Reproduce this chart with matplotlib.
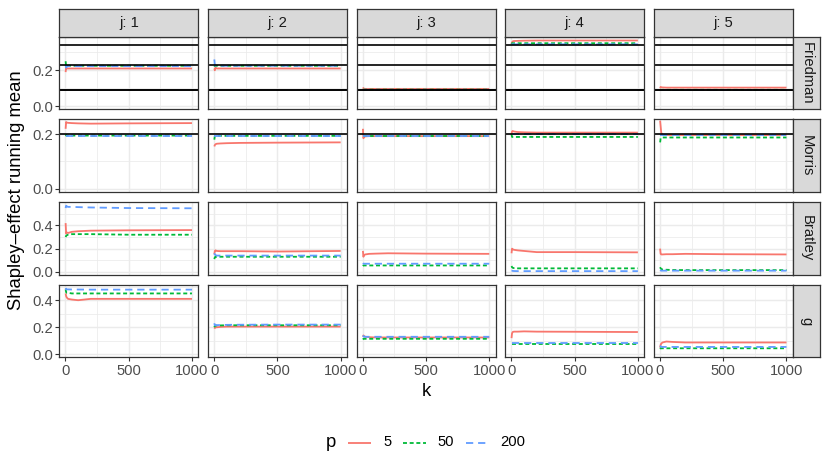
import matplotlib
matplotlib.use("Agg")
import matplotlib.pyplot as plt
from matplotlib.lines import Line2D

plt.rcParams["font.family"] = ["Liberation Sans", "DejaVu Sans"]

# ---------------- data ----------------
K = [1, 5, 10, 20, 50, 100, 200, 500, 1000]
J_LABELS = ["j: 1", "j: 2", "j: 3", "j: 4", "j: 5"]
FUNCS = ["Friedman", "Morris", "Bratley", "g"]
P_LEVELS = ["5", "50", "200"]

# running means, one list per j (values at the K grid)
friedman_p5 = [
    [0.19, 0.215, 0.21, 0.21, 0.21, 0.21, 0.21, 0.21, 0.21],
    [0.21, 0.20, 0.215, 0.21, 0.21, 0.21, 0.21, 0.21, 0.21],
    [0.105, 0.10, 0.098, 0.097, 0.097, 0.097, 0.097, 0.097, 0.097],
    [0.345, 0.355, 0.36, 0.362, 0.363, 0.364, 0.365, 0.365, 0.365],
    [0.10, 0.108, 0.106, 0.105, 0.104, 0.104, 0.104, 0.104, 0.104],
]
friedman_p50 = [
    [0.25, 0.22, 0.225, 0.225, 0.225, 0.225, 0.225, 0.225, 0.225],
    [0.22, 0.225, 0.225, 0.225, 0.225, 0.225, 0.225, 0.225, 0.225],
    [0.094, 0.093, 0.093, 0.093, 0.093, 0.093, 0.093, 0.093, 0.093],
    [0.345, 0.35, 0.35, 0.35, 0.35, 0.35, 0.35, 0.35, 0.35],
    [0.093, 0.092, 0.092, 0.092, 0.092, 0.092, 0.092, 0.092, 0.092],
]
friedman_p200 = [
    [0.23, 0.215, 0.22, 0.223, 0.223, 0.223, 0.223, 0.223, 0.223],
    [0.26, 0.23, 0.225, 0.225, 0.225, 0.225, 0.225, 0.225, 0.225],
    [0.093, 0.092, 0.092, 0.092, 0.092, 0.092, 0.092, 0.092, 0.092],
    [0.343, 0.344, 0.344, 0.344, 0.344, 0.344, 0.344, 0.344, 0.344],
    [0.092, 0.091, 0.091, 0.091, 0.091, 0.091, 0.091, 0.091, 0.091],
]

morris_p5 = [
    [0.22, 0.245, 0.243, 0.242, 0.241, 0.24, 0.239, 0.24, 0.241],
    [0.155, 0.16, 0.163, 0.165, 0.166, 0.167, 0.168, 0.169, 0.17],
    [0.22, 0.185, 0.19, 0.192, 0.193, 0.193, 0.193, 0.193, 0.193],
    [0.20, 0.21, 0.212, 0.21, 0.208, 0.207, 0.206, 0.206, 0.206],
    [0.25, 0.23, 0.205, 0.198, 0.197, 0.197, 0.197, 0.197, 0.197],
]
morris_p50 = [
    [0.20, 0.195, 0.195, 0.195, 0.195, 0.195, 0.195, 0.195, 0.195],
    [0.18, 0.193, 0.194, 0.194, 0.194, 0.194, 0.194, 0.194, 0.194],
    [0.195, 0.195, 0.195, 0.195, 0.195, 0.195, 0.195, 0.195, 0.195],
    [0.20, 0.19, 0.19, 0.19, 0.19, 0.19, 0.19, 0.19, 0.19],
    [0.17, 0.185, 0.188, 0.188, 0.188, 0.188, 0.188, 0.188, 0.188],
]
morris_p200 = [
    [0.195, 0.195, 0.195, 0.195, 0.195, 0.195, 0.195, 0.195, 0.195],
    [0.195, 0.195, 0.195, 0.195, 0.195, 0.195, 0.195, 0.195, 0.195],
    [0.195, 0.195, 0.195, 0.195, 0.195, 0.195, 0.195, 0.195, 0.195],
    [0.20, 0.20, 0.20, 0.20, 0.20, 0.20, 0.20, 0.20, 0.20],
    [0.197, 0.197, 0.197, 0.197, 0.197, 0.197, 0.197, 0.197, 0.197],
]

bratley_p5 = [
    [0.42, 0.33, 0.34, 0.335, 0.345, 0.35, 0.355, 0.358, 0.36],
    [0.15, 0.18, 0.185, 0.18, 0.178, 0.178, 0.178, 0.175, 0.18],
    [0.18, 0.13, 0.145, 0.15, 0.155, 0.157, 0.16, 0.157, 0.155],
    [0.16, 0.20, 0.195, 0.19, 0.185, 0.18, 0.17, 0.17, 0.168],
    [0.20, 0.155, 0.15, 0.15, 0.152, 0.152, 0.155, 0.152, 0.15],
]
bratley_p50 = [
    [0.30, 0.31, 0.315, 0.32, 0.325, 0.325, 0.325, 0.32, 0.32],
    [0.11, 0.125, 0.13, 0.128, 0.13, 0.13, 0.13, 0.13, 0.13],
    [0.05, 0.055, 0.055, 0.055, 0.055, 0.055, 0.055, 0.055, 0.055],
    [0.05, 0.04, 0.035, 0.032, 0.03, 0.03, 0.03, 0.03, 0.03],
    [0.04, 0.03, 0.025, 0.02, 0.018, 0.016, 0.015, 0.015, 0.015],
]
bratley_p200 = [
    [0.55, 0.57, 0.565, 0.56, 0.56, 0.558, 0.555, 0.55, 0.548],
    [0.16, 0.15, 0.145, 0.14, 0.14, 0.14, 0.14, 0.14, 0.14],
    [0.075, 0.07, 0.07, 0.07, 0.07, 0.07, 0.07, 0.07, 0.07],
    [0.01, 0.01, 0.008, 0.007, 0.006, 0.006, 0.006, 0.006, 0.006],
    [0.015, 0.012, 0.01, 0.01, 0.01, 0.01, 0.01, 0.01, 0.01],
]

g_p5 = [
    [0.45, 0.43, 0.42, 0.41, 0.405, 0.40, 0.41, 0.41, 0.41],
    [0.19, 0.195, 0.20, 0.20, 0.203, 0.205, 0.205, 0.205, 0.205],
    [0.13, 0.14, 0.135, 0.13, 0.127, 0.125, 0.125, 0.125, 0.125],
    [0.12, 0.155, 0.165, 0.168, 0.168, 0.17, 0.168, 0.167, 0.165],
    [0.05, 0.07, 0.08, 0.088, 0.095, 0.092, 0.088, 0.088, 0.088],
]
g_p50 = [
    [0.48, 0.46, 0.455, 0.455, 0.45, 0.45, 0.45, 0.45, 0.45],
    [0.20, 0.21, 0.212, 0.213, 0.214, 0.215, 0.215, 0.215, 0.215],
    [0.11, 0.115, 0.115, 0.115, 0.115, 0.115, 0.115, 0.115, 0.115],
    [0.075, 0.075, 0.075, 0.075, 0.075, 0.075, 0.075, 0.075, 0.075],
    [0.04, 0.045, 0.045, 0.045, 0.045, 0.045, 0.045, 0.045, 0.045],
]
g_p200 = [
    [0.49, 0.48, 0.48, 0.48, 0.479, 0.479, 0.478, 0.478, 0.478],
    [0.23, 0.215, 0.215, 0.216, 0.217, 0.218, 0.219, 0.22, 0.22],
    [0.14, 0.135, 0.13, 0.13, 0.13, 0.13, 0.13, 0.13, 0.13],
    [0.085, 0.085, 0.085, 0.085, 0.085, 0.085, 0.085, 0.085, 0.085],
    [0.065, 0.06, 0.055, 0.055, 0.055, 0.055, 0.055, 0.055, 0.055],
]

# reference (true) Shapley values drawn as horizontal lines per row
friedman_true = [0.340, 0.227, 0.093, 0.089]
morris_true = [0.2]
bratley_true = []
g_true = []

SERIES = {
    "Friedman": [friedman_p5, friedman_p50, friedman_p200],
    "Morris": [morris_p5, morris_p50, morris_p200],
    "Bratley": [bratley_p5, bratley_p50, bratley_p200],
    "g": [g_p5, g_p50, g_p200],
}
TRUES = {"Friedman": friedman_true, "Morris": morris_true,
         "Bratley": bratley_true, "g": g_true}

Y_LIMS = [(-0.016, 0.386), (-0.0125, 0.255), (-0.023, 0.603), (-0.02, 0.516)]
Y_TICKS = [[0.0, 0.2], [0.0, 0.2], [0.0, 0.2, 0.4], [0.0, 0.2, 0.4]]
Y_MINOR = [[0.1, 0.3], [0.1], [0.1, 0.3, 0.5], [0.1, 0.3, 0.5]]
X_TICKS = [0, 500, 1000]
X_MINOR = [250, 750]

# ---------------- style ----------------
COLORS = ["#F8766D", "#00BA38", "#619CFF"]
DASHES = [None, (2.2, 1.5), (4.0, 2.7)]
LW = 1.3
W, H = 830, 475
COL_LEFT = [59.3, 208.0, 356.6, 505.2, 653.8]
PW = 139.0
ROW_TOP = [36.7, 119.3, 201.9, 284.5]
PH = 72.6
STRIP_TOP = 9.3
STRIP_RIGHT_W = 27.5
GRID = "#EBEBEB"
BORDER = "#333333"
FS_SMALL = 10.6
FS_TITLE = 13.3

fig = plt.figure(figsize=(W / 100, H / 100), dpi=100)
fig.patch.set_facecolor("white")


def rect(x0, y0, w, h):
    return [x0 / W, 1 - (y0 + h) / H, w / W, h / H]


for r, fname in enumerate(FUNCS):
    for c in range(5):
        ax = fig.add_axes(rect(COL_LEFT[c], ROW_TOP[r], PW, PH))
        ax.set_xlim(1 - 0.05 * 999, 1000 + 0.05 * 999)
        ax.set_ylim(*Y_LIMS[r])
        ax.set_xticks(X_TICKS)
        ax.set_xticks(X_MINOR, minor=True)
        ax.set_yticks(Y_TICKS[r])
        ax.set_yticks(Y_MINOR[r], minor=True)
        ax.grid(True, which="major", color=GRID, lw=1.05, zorder=0)
        ax.grid(True, which="minor", color=GRID, lw=0.55, zorder=0)
        ax.set_axisbelow(True)
        for s in ax.spines.values():
            s.set_color(BORDER)
            s.set_linewidth(0.9)
            s.set_zorder(5)
        ax.tick_params(which="minor", length=0)
        ax.tick_params(which="major", length=2.9, width=0.8, color=BORDER,
                       labelsize=FS_SMALL, labelcolor="#4D4D4D", pad=1.8)
        if c == 0:
            ax.set_yticklabels(["%.1f" % v for v in Y_TICKS[r]])
        else:
            ax.tick_params(axis="y", length=0, labelleft=False)
        if r == len(FUNCS) - 1:
            ax.set_xticklabels([str(v) for v in X_TICKS])
        else:
            ax.tick_params(axis="x", length=0, labelbottom=False)

        for pi in range(3):
            vals = SERIES[fname][pi][c]
            line, = ax.plot(K, vals, color=COLORS[pi], lw=LW, zorder=2 + pi * 0.1,
                            solid_capstyle="butt", dash_capstyle="butt")
            if DASHES[pi] is not None:
                line.set_dashes(DASHES[pi])
        for t in TRUES[fname]:
            ax.axhline(t, color="black", lw=1.2, zorder=3)

        # top strips
        if r == 0:
            sax = fig.add_axes(rect(COL_LEFT[c], STRIP_TOP, PW, ROW_TOP[0] - STRIP_TOP))
            sax.set_facecolor("#D9D9D9")
            sax.set_xticks([]); sax.set_yticks([])
            for s in sax.spines.values():
                s.set_color(BORDER); s.set_linewidth(0.9)
            sax.text(0.5, 0.5, J_LABELS[c], ha="center", va="center",
                     fontsize=FS_SMALL, color="#1A1A1A", transform=sax.transAxes)
    # right strips
    rax = fig.add_axes(rect(COL_LEFT[4] + PW, ROW_TOP[r], STRIP_RIGHT_W, PH))
    rax.set_facecolor("#D9D9D9")
    rax.set_xticks([]); rax.set_yticks([])
    for s in rax.spines.values():
        s.set_color(BORDER); s.set_linewidth(0.9)
    rax.text(0.5, 0.5, fname, ha="center", va="center", rotation=-90,
             fontsize=FS_SMALL, color="#1A1A1A", transform=rax.transAxes)

# axis titles
fig.text(16.5 / W, 1 - 190 / H, "Shapley\u2013effect running mean", rotation=90,
         ha="center", va="center", fontsize=FS_TITLE, color="black")
fig.text(426 / W, 1 - 392 / H, "k", ha="center", va="center",
         fontsize=FS_TITLE, color="black")

# legend
ly = 1 - 442.5 / H
fig.text(331 / W, ly, "p", ha="center", va="center", fontsize=FS_TITLE)
key_x = [(348, 371), (403, 426), (466, 489)]
lab_x = [383, 437, 500]
for i in range(3):
    ln = Line2D([key_x[i][0] / W, key_x[i][1] / W], [ly, ly], color=COLORS[i],
                lw=LW, transform=fig.transFigure, solid_capstyle="butt",
                dash_capstyle="butt")
    if DASHES[i] is not None:
        ln.set_dashes(DASHES[i])
    fig.add_artist(ln)
    fig.text(lab_x[i] / W, ly, P_LEVELS[i], ha="left", va="center",
             fontsize=FS_SMALL)

fig.savefig("out.png", dpi=100, facecolor="white")
